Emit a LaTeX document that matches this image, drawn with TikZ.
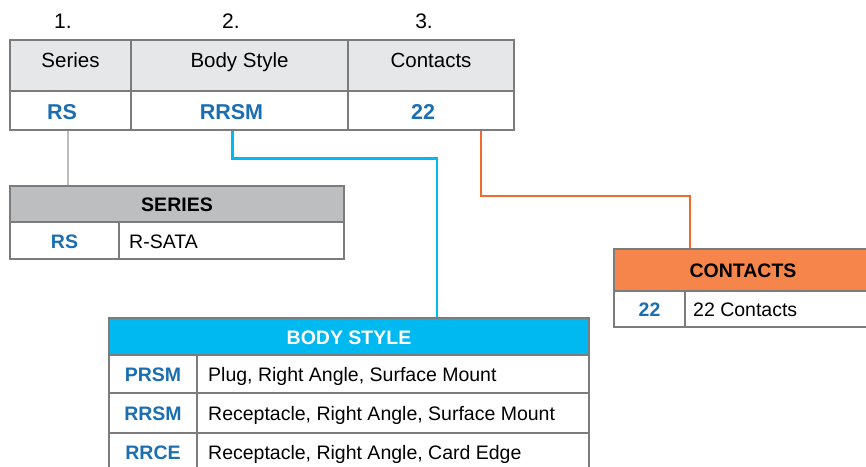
\documentclass[tikz,border=0pt]{standalone}
\usepackage{fontspec}
\setmainfont{Liberation Sans}
\definecolor{bordergray}{HTML}{7C7C7C}
\definecolor{headgray}{HTML}{E6E7E8}
\definecolor{seriesgray}{HTML}{BDBEC0}
\definecolor{cyanhead}{HTML}{00B9F1}
\definecolor{orangehead}{HTML}{F5854A}
\definecolor{orangeline}{HTML}{F26A2B}
\definecolor{codeblue}{HTML}{1B6FB1}
\definecolor{grayline}{HTML}{BEBEBE}
\begin{document}
\begin{tikzpicture}[x=1pt,y=-1pt,
  cell/.style={draw=bordergray, line width=1.6pt, anchor=north west, inner sep=0pt, outer sep=0pt},
  numtxt/.style={anchor=base, inner sep=0pt, font=\fontsize{21}{25}\selectfont},
  toptxt/.style={anchor=base, inner sep=0pt, font=\fontsize{20.5}{24}\selectfont},
  topcode/.style={anchor=base, inner sep=0pt, font=\fontsize{21.5}{25}\selectfont\bfseries, text=codeblue},
  subtxt/.style={anchor=base west, inner sep=0pt, font=\fontsize{19.5}{23}\selectfont},
  subhead/.style={anchor=base, inner sep=0pt, font=\fontsize{19.5}{23}\selectfont\bfseries},
  subcode/.style={anchor=base, inner sep=0pt, font=\fontsize{19.5}{23}\selectfont\bfseries, text=codeblue},
  conn/.style={line width=2.4pt}
]
\useasboundingbox (0,0) rectangle (866,466);
\fill[white] (0,0) rectangle (866,466);

% top table
\node[numtxt] (n1) at (63,28.3) {1.};
\node[numtxt] (n2) at (231,28.3) {2.};
\node[numtxt] (n3) at (424,28.3) {3.};
\node[cell, fill=headgray, minimum width=121pt, minimum height=51pt] (h1) at (10,40) {};
\node[cell, fill=headgray, minimum width=217pt, minimum height=51pt] (h2) at (131,40) {};
\node[cell, fill=headgray, minimum width=166pt, minimum height=51pt] (h3) at (348,40) {};
\node[cell, fill=white, minimum width=121pt, minimum height=39pt] (v1) at (10,91) {};
\node[cell, fill=white, minimum width=217pt, minimum height=39pt] (v2) at (131,91) {};
\node[cell, fill=white, minimum width=166pt, minimum height=39pt] (v3) at (348,91) {};
\node[toptxt] (th1) at (70.5,67) {Series};
\node[toptxt] (th2) at (239.5,67) {Body Style};
\node[toptxt] (th3) at (431,67) {Contacts};
\node[topcode] (tv1) at (62,119.5) {RS};
\node[topcode] (tv2) at (231.5,119.5) {RRSM};
\node[topcode] (tv3) at (423,119.5) {22};

% series box
\node[cell, fill=seriesgray, minimum width=334pt, minimum height=36pt] (sh) at (10,186) {};
\node[cell, fill=white, minimum width=109pt, minimum height=37pt] (sc) at (10,222) {};
\node[cell, fill=white, minimum width=225pt, minimum height=37pt] (st) at (119,222) {};
\node[subhead] (sht) at (177,211) {SERIES};
\node[subcode] (sct) at (64.5,248) {RS};
\node[subtxt] (stt) at (129,248) {R-SATA};

% contacts box
\node[cell, fill=orangehead, minimum width=258pt, minimum height=42pt] (ch) at (614,249) {};
\node[cell, fill=white, minimum width=71pt, minimum height=36pt] (cc) at (614,291) {};
\node[cell, fill=white, minimum width=187pt, minimum height=36pt] (ct) at (685,291) {};
\node[subhead] (cht) at (743,277) {CONTACTS};
\node[subcode] (cct) at (649.5,316) {22};
\node[subtxt] (ctt) at (693,316) {22 Contacts};

% body style box
\node[cell, fill=cyanhead, minimum width=480pt, minimum height=37pt] (bh) at (109,318) {};
\node[cell, fill=white, minimum width=88pt, minimum height=38pt] (bc1) at (109,355) {};
\node[cell, fill=white, minimum width=392pt, minimum height=38pt] (bt1) at (197,355) {};
\node[cell, fill=white, minimum width=88pt, minimum height=40pt] (bc2) at (109,393) {};
\node[cell, fill=white, minimum width=392pt, minimum height=40pt] (bt2) at (197,393) {};
\node[cell, fill=white, minimum width=88pt, minimum height=40pt] (bc3) at (109,433) {};
\node[cell, fill=white, minimum width=392pt, minimum height=40pt] (bt3) at (197,433) {};
\node[subhead, text=white] (bht) at (349,344) {BODY STYLE};
\node[subcode] (bct1) at (153,381.5) {PRSM};
\node[subtxt] (btt1) at (208,381.5) {Plug, Right Angle, Surface Mount};
\node[subcode] (bct2) at (153,420.5) {RRSM};
\node[subtxt] (btt2) at (208,420.5) {Receptacle, Right Angle, Surface Mount};
\node[subcode] (bct3) at (153,459) {RRCE};
\node[subtxt] (btt3) at (208,459) {Receptacle, Right Angle, Card Edge};

% connectors
\draw[conn, grayline] ([xshift=-2.5pt, yshift=-0.8pt]v1.south) -- ([xshift=-2.5pt, yshift=0.8pt]v1.south |- sh.north);
\draw[conn, cyanhead] ([xshift=-7pt, yshift=-0.8pt]v2.south) -- ++(0,27.5) -| ([xshift=88pt, yshift=0.8pt]bh.north);
\draw[conn, orangeline] ([xshift=50pt, yshift=-0.8pt]v3.south) -- ++(0,65) -| ([xshift=-53pt, yshift=0.8pt]ch.north);
\end{tikzpicture}
\end{document}
